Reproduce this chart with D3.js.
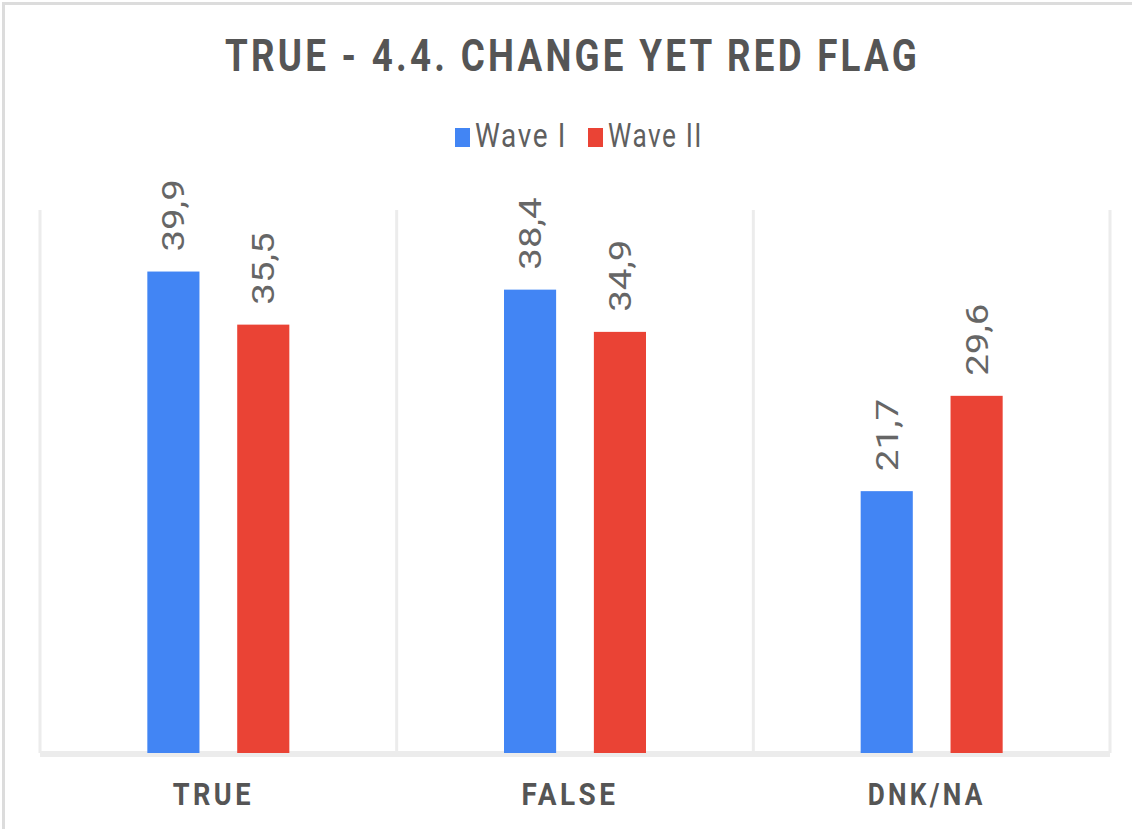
<!DOCTYPE html>
<html>
<head>
<meta charset="utf-8">
<script src="https://d3js.org/d3.v7.min.js"></script>
<style>
  body { margin: 0; background: #fff; }
  svg text { font-family: Roboto, "Liberation Sans", sans-serif; }
</style>
</head>
<body>
<div id="chart"></div>
<script>
// Data
const categories = ['TRUE', 'FALSE', 'DNK/NA'];
const seriesNames = ['Wave I', 'Wave II'];
const waveI = [39.9, 38.4, 21.7];
const waveII = [35.5, 34.9, 29.6];
const colors = ['#4285f4', '#ea4335'];

const W = 1132, H = 829;
const margin = { top: 210, right: 22, bottom: 76, left: 40 };

const svg = d3.select('#chart').append('svg')
    .attr('width', W)
    .attr('height', H);

// outer frame
svg.append('rect')
    .attr('x', 3.5).attr('y', 3.5)
    .attr('width', W + 10).attr('height', H + 10)
    .attr('fill', 'none')
    .attr('stroke', '#dcdcdc')
    .attr('stroke-width', 3);

const width = W - margin.left - margin.right;
const height = H - margin.top - margin.bottom;

const g = svg.append('g')
    .attr('transform', `translate(${margin.left},${margin.top})`);

const x = d3.scaleBand()
    .domain(categories)
    .range([0, width]);

const x1 = d3.scaleBand()
    .domain(seriesNames)
    .range([0, 142])
    .paddingInner(0.42);

const y = d3.scaleLinear()
    .domain([0, 45])
    .range([height, 0]);

// vertical category separators
const seps = [0].concat(categories.map(c => x(c) + x.bandwidth()));
g.selectAll('.sep')
    .data(seps)
    .enter()
    .append('line')
    .attr('x1', d => d).attr('x2', d => d)
    .attr('y1', 0).attr('y2', height)
    .attr('stroke', '#ececec')
    .attr('stroke-width', 3);

// baseline
g.append('line')
    .attr('x1', 0).attr('x2', width)
    .attr('y1', height + 1).attr('y2', height + 1)
    .attr('stroke', '#ececec')
    .attr('stroke-width', 6);

const data = categories.map((c, i) => ({
    cat: c,
    vals: [
        { s: seriesNames[0], v: waveI[i], c: colors[0] },
        { s: seriesNames[1], v: waveII[i], c: colors[1] }
    ]
}));

const groups = g.selectAll('.grp')
    .data(data)
    .enter()
    .append('g')
    .attr('transform', d => `translate(${x(d.cat) + x.bandwidth() / 2 - 71},0)`);

groups.selectAll('rect')
    .data(d => d.vals)
    .enter()
    .append('rect')
    .attr('x', d => x1(d.s))
    .attr('y', d => y(d.v))
    .attr('width', x1.bandwidth())
    .attr('height', d => height - y(d.v))
    .attr('fill', d => d.c);

// value labels, rotated and a bit stretched like the original
groups.selectAll('.lbl')
    .data(d => d.vals)
    .enter()
    .append('text')
    .attr('transform', d => `translate(${x1(d.s) + x1.bandwidth() / 2 + 11},${y(d.v) - 20}) rotate(-90) scale(1.2,1)`)
    .attr('text-anchor', 'start')
    .attr('font-size', 32)
    .attr('fill', '#666')
    .text(d => d3.format('.1f')(d.v).replace('.', ','));

// category axis
const labelLen = { 'TRUE': 81, 'FALSE': 97, 'DNK/NA': 118 };
const xAxis = g.append('g')
    .attr('transform', `translate(0,${height})`)
    .call(d3.axisBottom(x).tickSize(0).tickPadding(28));
xAxis.select('.domain').remove();
xAxis.selectAll('text')
    .attr('dy', 0)
    .attr('y', 52)
    .attr('x', -5)
    .attr('font-size', 32)
    .attr('font-weight', 'bold')
    .attr('letter-spacing', 4)
    .attr('fill', '#555')
    .attr('textLength', d => labelLen[d])
    .attr('lengthAdjust', 'spacingAndGlyphs')
    .style('font-family', 'Roboto, sans-serif');

// title
svg.append('text')
    .attr('x', 225)
    .attr('y', 71)
    .attr('font-size', 45)
    .attr('font-weight', 'bold')
    .attr('letter-spacing', 4)
    .attr('fill', '#555')
    .attr('textLength', 695)
    .attr('lengthAdjust', 'spacingAndGlyphs')
    .text('TRUE - 4.4. CHANGE YET RED FLAG');

// legend
const items = [
    { name: seriesNames[0], color: colors[0], dx: 455, len: 92 },
    { name: seriesNames[1], color: colors[1], dx: 588, len: 95 }
];
const li = svg.selectAll('.li')
    .data(items)
    .enter()
    .append('g')
    .attr('transform', d => `translate(${d.dx},128)`);
li.append('rect')
    .attr('width', 15).attr('height', 19)
    .attr('fill', d => d.color);
li.append('text')
    .attr('x', 20).attr('y', 19)
    .attr('font-size', 34)
    .attr('fill', '#5f5f5f')
    .attr('letter-spacing', 2)
    .attr('textLength', d => d.len)
    .attr('lengthAdjust', 'spacingAndGlyphs')
    .text(d => d.name);
</script>
</body>
</html>
